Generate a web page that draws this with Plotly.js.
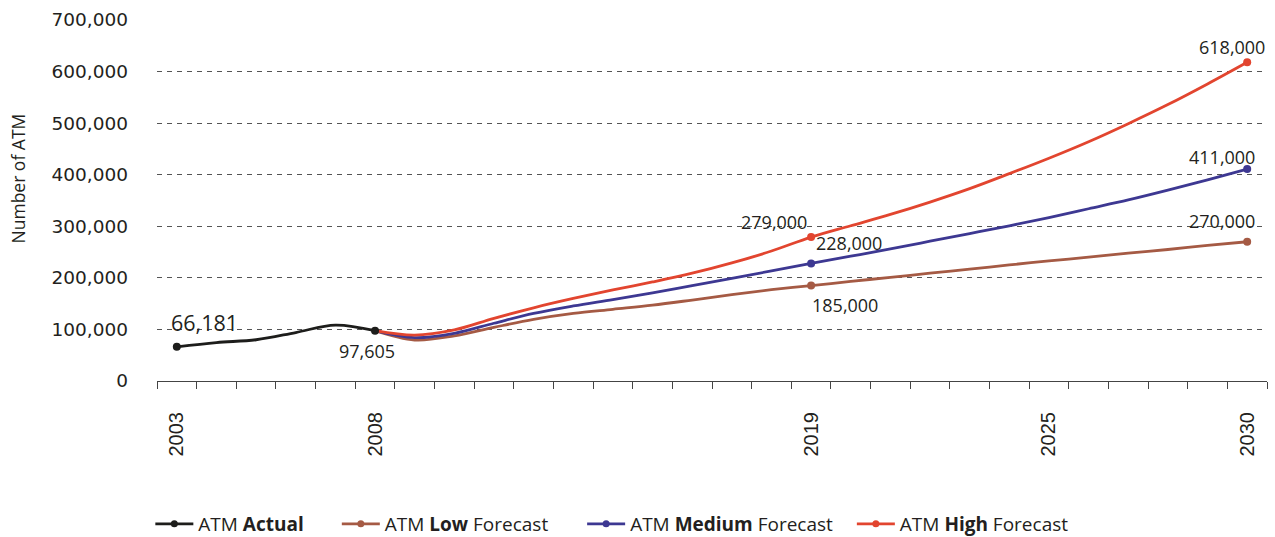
<!DOCTYPE html>
<html>
<head>
<meta charset="utf-8">
<script src="https://cdn.plot.ly/plotly-3.0.1.min.js"></script>
<style>html,body{margin:0;padding:0;background:#fff;}#chart{width:1275px;height:537px;}</style>
</head>
<body>
<div id="chart"></div>
<script>
// ---- data ----
const actualYears = [2003, 2004, 2005, 2006, 2007, 2008];
const actualValues = [66181, 74500, 80000, 94000, 108500, 97605];

const forecastYears = [2008, 2009, 2010, 2011, 2012, 2013, 2014, 2015, 2016, 2017, 2018, 2019,
                       2020, 2021, 2022, 2023, 2024, 2025, 2026, 2027, 2028, 2029, 2030];
const lowValues = [97605, 79500, 87500, 104000, 119500, 131000, 139000, 147000, 157000, 167500, 177000, 185000,
                   193000, 201000, 209000, 217000, 225000, 233000, 240000, 248000, 255000, 263000, 270000];
const mediumValues = [97605, 84000, 92500, 112000, 131000, 145500, 158000, 171000, 185000, 199000, 213500, 228000,
                      242000, 256000, 271000, 286000, 301000, 317000, 334000, 351000, 370000, 390000, 411000];
const highValues = [97605, 89000, 99000, 121500, 142000, 160000, 176500, 192000, 209000, 229000, 252000, 279000,
                    301000, 323000, 347000, 373000, 402000, 432000, 464000, 499000, 536000, 576000, 618000];

const actualMarkerYears = [2003, 2008];
const forecastMarkerYears = [2019, 2030];
const tickYears = [2003, 2008, 2019, 2025, 2030];

const seriesNames = ['ATM <b>Actual</b>', 'ATM <b>Low</b> Forecast', 'ATM <b>Medium</b> Forecast', 'ATM <b>High</b> Forecast'];
const colors = ['#1d1d1b', '#a55a44', '#3d3892', '#e2452f'];
const yTitle = 'Number of ATM';

// ---- build ----
function pick(years, values, sel) {
  const xs = [], ys = [];
  sel.forEach(y => { const i = years.indexOf(y); xs.push(y); ys.push(values[i]); });
  return {x: xs, y: ys};
}
const series = [
  {years: actualYears, values: actualValues, marks: actualMarkerYears},
  {years: forecastYears, values: lowValues, marks: forecastMarkerYears},
  {years: forecastYears, values: mediumValues, marks: forecastMarkerYears},
  {years: forecastYears, values: highValues, marks: forecastMarkerYears}
];

const traces = [];
[1, 2, 3, 0].forEach(k => {
  const s = series[k];
  traces.push({
    x: s.years, y: s.values, type: 'scatter', mode: 'lines',
    line: {color: colors[k], width: 2.8, shape: 'spline', smoothing: 1},
    showlegend: false, hoverinfo: 'skip'
  });
  const p = pick(s.years, s.values, s.marks);
  traces.push({
    x: p.x, y: p.y, type: 'scatter', mode: 'markers',
    marker: {color: colors[k], size: 8}, showlegend: false, hoverinfo: 'skip'
  });
});
const legendIds = ['legend', 'legend2', 'legend3', 'legend4'];
seriesNames.forEach((n, k) => {
  traces.push({
    x: [null], y: [null], type: 'scatter', mode: 'lines+markers', name: n,
    line: {color: colors[k], width: 2.8}, marker: {color: colors[k], size: 7},
    legend: legendIds[k], showlegend: true
  });
});

const fmt = v => v.toLocaleString('en-US');
const labelSpec = [
  {s: 0, year: 2003, dx: 28, dy: 24, size: 21.5},
  {s: 0, year: 2008, dx: -8, dy: -20, size: 18},
  {s: 3, year: 2019, dx: -37, dy: 15, size: 18},
  {s: 2, year: 2019, dx: 38, dy: 20, size: 18},
  {s: 1, year: 2019, dx: 34, dy: -19, size: 18},
  {s: 3, year: 2030, dx: -15, dy: 15, size: 18},
  {s: 2, year: 2030, dx: -25, dy: 12, size: 18},
  {s: 1, year: 2030, dx: -25, dy: 21, size: 18}
];
const annotations = labelSpec.map(a => {
  const s = series[a.s];
  const v = s.values[s.years.indexOf(a.year)];
  return {
    x: a.year, y: v, xref: 'x', yref: 'y', text: fmt(v), showarrow: false,
    xanchor: 'center', yanchor: 'middle', xshift: a.dx, yshift: a.dy,
    font: {family: 'Open Sans, Noto Sans, sans-serif', size: a.size, color: '#231f20'}
  };
});
annotations.push({
  x: 0, y: 0.561, xref: 'paper', yref: 'paper', xanchor: 'center', yanchor: 'middle',
  xshift: -139, text: yTitle, textangle: -90, showarrow: false,
  font: {family: 'Open Sans, Noto Sans, sans-serif', size: 17.5, color: '#231f20'}
});

const legendBase = {
  orientation: 'h', yanchor: 'middle', y: -0.396, xanchor: 'left',
  font: {family: 'Open Sans, Noto Sans, sans-serif', size: 19, color: '#231f20'},
  bgcolor: 'rgba(0,0,0,0)', itemwidth: 38
};
const layout = {
  width: 1275, height: 537,
  margin: {l: 157, r: 8, t: 20, b: 156, autoexpand: false},
  paper_bgcolor: '#fff', plot_bgcolor: '#fff',
  showlegend: true,
  legend: Object.assign({}, legendBase, {x: -0.006}),
  legend2: Object.assign({}, legendBase, {x: 0.162}),
  legend3: Object.assign({}, legendBase, {x: 0.383}),
  legend4: Object.assign({}, legendBase, {x: 0.626}),
  xaxis: {
    type: 'linear', range: [2002.5, 2030.5],
    tickmode: 'array', tickvals: tickYears, ticktext: tickYears.map(String),
    ticks: '', tickangle: -90, ticklabelstandoff: 22,
    tickfont: {family: 'Liberation Sans, Arial, sans-serif', size: 20, color: '#231f20'},
    showgrid: false, zeroline: false,
    showline: true, linecolor: '#444', linewidth: 1,
    minor: {ticks: 'outside', tick0: 2002.5, dtick: 1, ticklen: 7, tickcolor: '#444', tickwidth: 1, showgrid: false}
  },
  yaxis: {
    range: [0, 700000], tickmode: 'array',
    tickvals: [0, 100000, 200000, 300000, 400000, 500000, 600000, 700000],
    tickformat: ',', ticks: '', ticklabelstandoff: 28,
    tickfont: {family: 'DejaVu Sans, sans-serif', size: 18.5, color: '#231f20'},
    showgrid: true, gridcolor: '#555', gridwidth: 1, griddash: '5px,5px',
    zeroline: false, showline: false
  },
  annotations: annotations
};

Plotly.newPlot('chart', traces, layout, {displayModeBar: false, staticPlot: true});
</script>
</body>
</html>
